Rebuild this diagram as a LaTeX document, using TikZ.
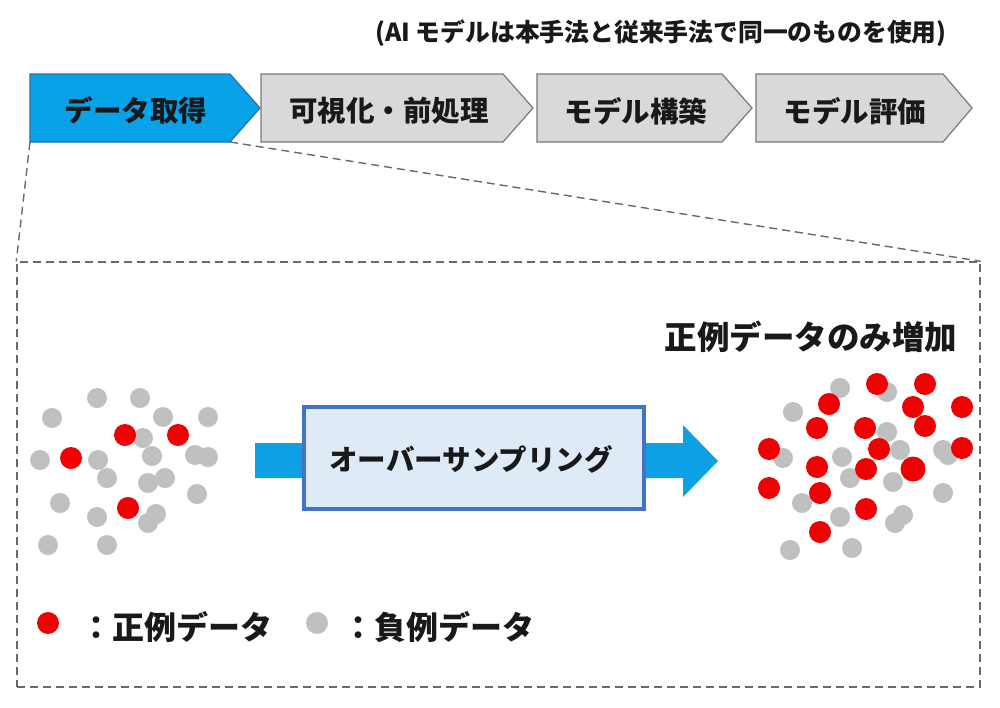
\documentclass[tikz,border=0pt]{standalone}
\usepackage{fontspec}
\newfontfamily\jp{Noto Sans CJK JP}
\definecolor{chevblue}{RGB}{8,162,232}
\definecolor{chevblueline}{RGB}{40,110,180}
\definecolor{chevgray}{RGB}{217,217,217}
\definecolor{chevgrayline}{RGB}{120,120,120}
\definecolor{dashgray}{RGB}{105,105,105}
\definecolor{arrowblue}{RGB}{14,160,228}
\definecolor{boxline}{RGB}{68,114,196}
\definecolor{boxfill}{RGB}{222,235,247}
\definecolor{posred}{RGB}{240,0,0}
\definecolor{neggray}{RGB}{192,192,192}
\definecolor{txt}{RGB}{25,25,25}
\tikzset{
  chevb/.style={fill=chevblue, draw=chevblueline, line width=1.2pt, line join=miter},
  chevg/.style={fill=chevgray, draw=chevgrayline, line width=1.2pt, line join=miter},
  chevtext/.style={font=\jp\bfseries\fontsize{28.5}{32}\selectfont, text=txt, inner sep=0pt},
  bigtext/.style={font=\jp\bfseries\fontsize{32}{36}\selectfont, text=txt, inner sep=0pt},
  dashline/.style={draw=dashgray, line width=1.4pt, dash pattern=on 8pt off 5pt},
  posdot/.style={fill=posred},
  negdot/.style={fill=neggray},
}
\begin{document}
\begin{tikzpicture}[x=1pt,y=-1pt]
\useasboundingbox (0,0) rectangle (1000,707);
\fill[white] (0,0) rectangle (1000,707);

% caption
\node[font=\jp\bfseries\fontsize{24.8}{28}\selectfont, text=txt, inner sep=0pt] (cap) at (661,33) {(AI モデルは本手法と従来手法で同一のものを使用)};

% chevrons
\draw[chevb] (30,74) -- (230,74) -- (260,108) -- (230,142) -- (30,142) -- cycle;
\draw[chevg] (261,74) -- (503,74) -- (533,108) -- (503,142) -- (261,142) -- cycle;
\draw[chevg] (537,74) -- (722,74) -- (752,108) -- (722,142) -- (537,142) -- cycle;
\draw[chevg] (756,74) -- (943,74) -- (972,108) -- (943,142) -- (756,142) -- cycle;
\coordinate (c1bl) at (30,142);
\coordinate (c1br) at (230,142);
\node[chevtext] (t1) at (136,110) {データ取得};
\node[chevtext] (t2) at (389,111) {可視化・前処理};
\node[chevtext] (t3) at (636,111) {モデル構築};
\node[chevtext] (t4) at (855,111) {モデル評価};

% zoom box
\node[dashline, minimum width=963pt, minimum height=425pt, inner sep=0pt] (big) at (498.5,474.5) {};
\draw[dashline] (c1bl) -- (big.north west);
\draw[dashline] (c1br) -- (big.north east);

% process arrow and box
\fill[arrowblue] (255,443) -- (683,443) -- (683,425) -- (718,461) -- (683,497) -- (683,478) -- (255,478) -- cycle;
\node[draw=boxline, fill=boxfill, line width=4pt, minimum width=340pt, minimum height=102pt, inner sep=0pt] (proc) at (473.5,457.5) {};
\node[chevtext] (proctext) at (471,459) {オーバーサンプリング};

% left cluster: negatives
\foreach \p in {(97,398),(140,398),(52,418),(163,417),(208,417),(143,438),(40,460),(98,460),(152,456),(195,455),(208,457),(107,478),(148,483),(165,478),(197,494),(60,503),(97,517),(148,523),(156,514),(48,545),(107,545)}
  \fill[negdot] \p circle (10);
% left cluster: positives
\foreach \p in {(125,435),(178,435),(71,458),(128,508)}
  \fill[posdot] \p circle (11);

% right cluster: negatives
\foreach \p in {(840,388),(793,412),(887,392),(887,432),(900,450),(842,457),(783,458),(943,450),(850,478),(893,482),(943,493),(802,503),(840,517),(895,523),(903,515),(790,550),(852,548),(948,455)}
  \fill[negdot] \p circle (10);
% right cluster: positives
\foreach \p in {(877,384),(925,384),(829,404),(913,407),(962,407),(817,428),(865,428),(925,426),(879,449),(962,448),(769,449),(817,467),(866,469),(769,488),(820,493),(866,509),(820,532)}
  \fill[posdot] \p circle (11);
\fill[posdot] (913,469) circle (12.5);

\node[bigtext, font=\jp\bfseries\fontsize{32.5}{36}\selectfont] (inc) at (811,337) {正例データのみ増加};

% legend
\fill[posdot] (48,623) circle (11);
\coordinate (legpos) at (48,623);
\node[bigtext, anchor=west] (legpostext) at (80,627) {：正例データ};
\fill[negdot] (317,623) circle (11);
\coordinate (legneg) at (317,623);
\node[bigtext, anchor=west] (legnegtext) at (342,627) {：負例データ};
\end{tikzpicture}
\end{document}
